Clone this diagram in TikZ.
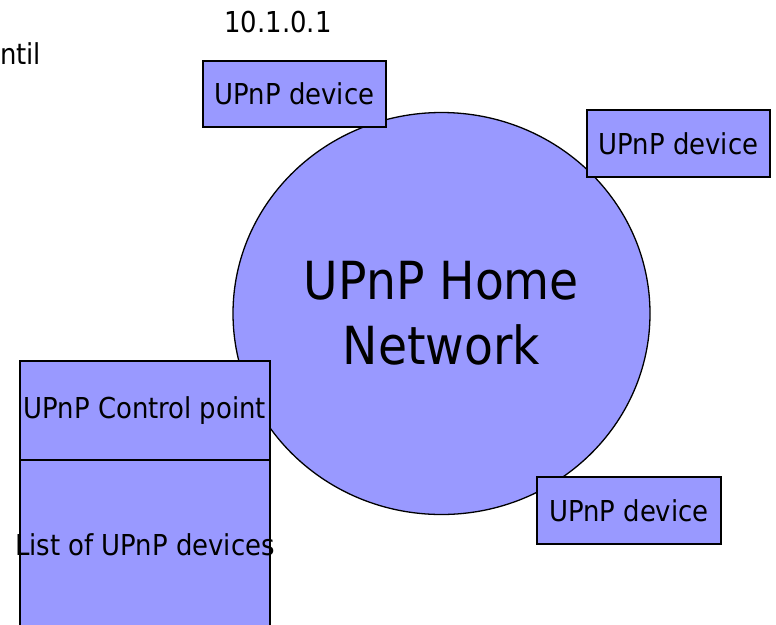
\documentclass[tikz,border=0pt]{standalone}
\usepackage{fontspec}
\setmainfont{DejaVu Sans Condensed}
\usetikzlibrary{positioning,shapes.geometric}
\definecolor{Lilac}{HTML}{9999FF}

\begin{document}
\begin{tikzpicture}[x=1pt,y=-1pt,
  box/.style={draw,line width=1.3pt,fill=Lilac,inner sep=0pt,outer sep=0pt,font=\fontsize{28.8}{34}\selectfont},
  plain/.style={inner sep=0pt,font=\fontsize{28.8}{34}\selectfont}]
\useasboundingbox (0,0) rectangle (776,624);
\clip (0,0) rectangle (776,624);
\node[draw,line width=1.3pt,fill=Lilac,ellipse,minimum width=417pt,minimum height=402pt,inner sep=0pt,align=center,font=\fontsize{52.5}{65}\selectfont](network) at (441.5,313.5){UPnP Home\\Network};
\node[box,minimum width=183pt,minimum height=66pt](devtop) at (294.5,94){UPnP device};
\node[box,minimum width=183pt,minimum height=67pt](devright) at (678.5,143.5){UPnP device};
\node[box,minimum width=184pt,minimum height=67pt](devbottom) at (629,510.5){UPnP device};
\node[box,minimum width=250pt,minimum height=99pt](ctrlpoint) at (145,410.5){UPnP Control point};
\node[box,minimum width=250pt,minimum height=170pt,below=0pt of ctrlpoint,
  label={[plain]center:List of UPnP devices}](devlist){};
\node[plain](iplabel) at (278,22){10.1.0.1};
\node[plain,anchor=west](cuttext) at (0,54){ntil};
\end{tikzpicture}
\end{document}
